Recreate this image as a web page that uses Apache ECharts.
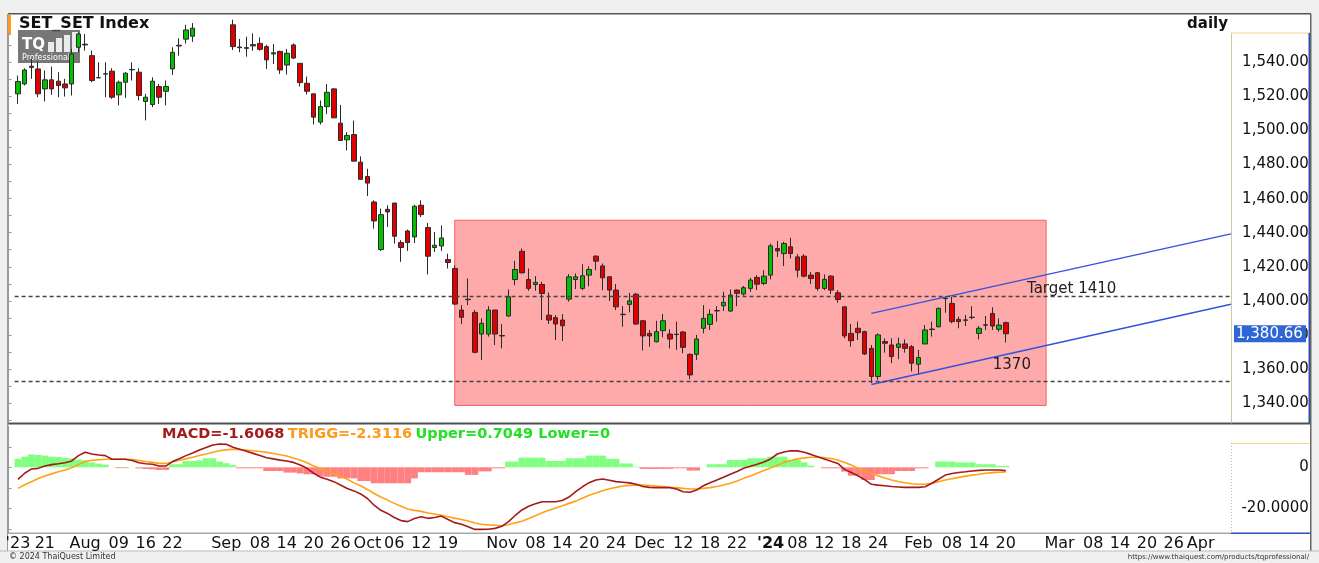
<!DOCTYPE html>
<html>
<head>
<meta charset="utf-8">
<title>SET_SET Index daily</title>
<script src="https://cdn.jsdelivr.net/npm/echarts@6/dist/echarts.min.js"></script>
<style>
html,body{margin:0;padding:0;background:#f0f0f0;}
#main{width:1319px;height:563px;}
</style>
</head>
<body>
<div id="main"></div>
<script>
// trading days shown on the chart
var dates = [
'2023-07-17','2023-07-18','2023-07-19','2023-07-20','2023-07-21','2023-07-24','2023-07-25','2023-07-26','2023-07-27','2023-07-31',
'2023-08-02','2023-08-03','2023-08-04','2023-08-07','2023-08-08','2023-08-09','2023-08-10','2023-08-11','2023-08-15','2023-08-16',
'2023-08-17','2023-08-18','2023-08-21','2023-08-22','2023-08-23','2023-08-24','2023-08-25','2023-08-28','2023-08-29','2023-08-30','2023-08-31',
'2023-09-01','2023-09-04','2023-09-05','2023-09-06','2023-09-07','2023-09-08','2023-09-11','2023-09-12','2023-09-13','2023-09-14',
'2023-09-15','2023-09-18','2023-09-19','2023-09-20','2023-09-21','2023-09-22','2023-09-25','2023-09-26','2023-09-27','2023-09-28','2023-09-29',
'2023-10-02','2023-10-03','2023-10-04','2023-10-05','2023-10-06','2023-10-09','2023-10-10','2023-10-11','2023-10-12','2023-10-16',
'2023-10-17','2023-10-18','2023-10-19','2023-10-20','2023-10-24','2023-10-25','2023-10-26','2023-10-27','2023-10-30','2023-10-31',
'2023-11-01','2023-11-02','2023-11-03','2023-11-06','2023-11-07','2023-11-08','2023-11-09','2023-11-10','2023-11-13','2023-11-14',
'2023-11-15','2023-11-16','2023-11-17','2023-11-20','2023-11-21','2023-11-22','2023-11-23','2023-11-24','2023-11-27','2023-11-28','2023-11-29','2023-11-30',
'2023-12-01','2023-12-04','2023-12-06','2023-12-07','2023-12-08','2023-12-12','2023-12-13','2023-12-14','2023-12-15','2023-12-18',
'2023-12-19','2023-12-20','2023-12-21','2023-12-22','2023-12-25','2023-12-26','2023-12-27','2023-12-28',
'2024-01-02','2024-01-03','2024-01-04','2024-01-05','2024-01-08','2024-01-09','2024-01-10','2024-01-11','2024-01-12','2024-01-15',
'2024-01-16','2024-01-17','2024-01-18','2024-01-19','2024-01-22','2024-01-23','2024-01-24','2024-01-25','2024-01-26','2024-01-29','2024-01-30','2024-01-31',
'2024-02-01','2024-02-02','2024-02-05','2024-02-06','2024-02-07','2024-02-08','2024-02-09','2024-02-12','2024-02-13','2024-02-14',
'2024-02-15','2024-02-16','2024-02-19','2024-02-20'
];
// empty future slots on the time axis
var futureDates = [
'2024-02-21','2024-02-22','2024-02-23','2024-02-26','2024-02-27','2024-02-28','2024-02-29','2024-03-01',
'2024-03-04','2024-03-05','2024-03-06','2024-03-07','2024-03-08','2024-03-11','2024-03-12','2024-03-13','2024-03-14','2024-03-15',
'2024-03-18','2024-03-19','2024-03-20','2024-03-21','2024-03-22','2024-03-25','2024-03-26','2024-03-27','2024-03-28','2024-03-29',
'2024-04-01','2024-04-02','2024-04-03','2024-04-04','2024-04-05'
];

var opens = [
1521.5,1527.3,1537.7,1536.1,1524.4,1529.7,1528.9,1527.3,1527.3,1548.8,
1550.6,1543.9,1531.0,1533.3,1534.8,1520.9,1528.3,1535.8,1534.2,1517.0,
1515.2,1525.8,1523.0,1536.1,1550.0,1553.6,1555.3,1561,1566,1567,
1564,1569,1562,1549.0,1548.2,1549.6,1551.1,1549.2,1544.9,1546.4,
1538.4,1550.2,1539.4,1527.7,1521.5,1504.9,1514.0,1524.4,1504.3,1494.5,
1497.6,1481.4,1473.0,1458.0,1430.1,1453.7,1457.4,1434.2,1441.0,1437.5,
1456.1,1443.0,1431.3,1432.2,1424.2,1419.0,1394.6,1400.9,1393.2,1380.5,
1380.5,1394.6,1379.6,1391.1,1412.5,1429.1,1412.5,1409.6,1409.6,1391.6,
1390.1,1388.7,1401.0,1412.5,1407.3,1415.1,1426.2,1420.5,1414.1,1406.3,
1392.1,1397.9,1403.9,1388.3,1380.9,1376.0,1382.5,1380.5,1380.4,1381.7,
1368.6,1368.6,1383.9,1386.2,1394.3,1397.1,1394.0,1406.3,1404.0,1407.3,
1413.7,1410.2,1415.1,1430.7,1427.8,1431.7,1425.8,1426.2,1415.1,1416.5,
1407.3,1414.5,1404.7,1396.5,1380.9,1383.9,1381.9,1372.1,1355.6,1376.1,
1374.1,1372.7,1374.7,1373.1,1362.8,1374.7,1383.4,1384.8,1401.5,1398.5,
1389.1,1388.8,1390.4,1380.9,1385.9,1392.6,1383.3,1387.2
];
var highs = [
1532.2,1536.5,1542.0,1540.4,1535.2,1537.5,1534.2,1530.3,1547.8,1557.6,
1556.6,1546.9,1540.0,1540.0,1536.5,1529.3,1534.2,1540.0,1536.5,1521.5,
1531.2,1527.3,1529.3,1548.8,1554.1,1562.0,1563.0,1569,1572,1570,
1572,1574,1565,1553.7,1555.0,1557.0,1554.6,1550.3,1550.7,1546.8,
1547.8,1551.1,1539.4,1531.6,1521.5,1517.6,1527.3,1524.8,1515.0,1499.0,
1505.8,1484.8,1477.5,1459.0,1454.1,1456.1,1457.4,1435.6,1441.8,1456.4,
1459.0,1445.7,1440.4,1444.3,1427.7,1420.9,1397.5,1413.1,1394.6,1389.7,
1396.9,1394.6,1386.4,1406.7,1423.5,1430.7,1419.0,1414.5,1411.2,1404.9,
1391.6,1392.2,1415.7,1416.1,1421.5,1420.3,1426.8,1421.9,1414.5,1409.8,
1396.9,1404.7,1404.7,1388.7,1382.9,1388.3,1392.3,1383.3,1387.8,1382.3,
1369.2,1380.0,1397.5,1395.0,1396.9,1405.3,1406.7,1406.7,1408.7,1413.5,
1415.1,1418.0,1433.6,1435.2,1434.6,1437.1,1427.4,1427.4,1417.0,1417.0,
1415.5,1415.1,1406.3,1396.5,1386.4,1387.8,1382.5,1374.1,1380.9,1378.0,
1378.0,1378.4,1377.4,1374.1,1371.2,1385.8,1387.8,1396.0,1402.4,1402.4,
1390.7,1391.7,1396.9,1385.2,1391.1,1396.2,1389.7,1387.8
];
var lows = [
1515.6,1526.4,1530.3,1519.5,1517.0,1520.9,1519.5,1519.9,1520.5,1545.9,
1546.9,1528.3,1530.9,1519.5,1518.6,1514.7,1519.1,1529.3,1517.6,1505.9,
1513.7,1515.6,1514.7,1532.6,1543.9,1551.0,1552.0,1560,1562,1560,
1561,1561,1547.2,1545.9,1543.3,1546.8,1546.8,1536.1,1539.0,1533.2,
1532.8,1541.9,1525.8,1521.1,1503.5,1503.5,1509.7,1507.4,1494.1,1488.3,
1482.0,1471.3,1461.5,1442.4,1429.3,1443.4,1433.6,1422.9,1429.3,1434.0,
1449.2,1415.5,1428.7,1429.3,1419.0,1397.5,1386.4,1397.5,1369.2,1365.3,
1379.0,1374.1,1372.1,1390.7,1409.2,1416.4,1405.9,1405.9,1388.7,1386.4,
1377.0,1376.4,1399.5,1406.9,1406.3,1408.6,1418.0,1406.3,1399.9,1394.6,
1384.8,1393.2,1385.8,1370.8,1373.1,1375.5,1378.6,1372.1,1371.2,1369.2,
1354.0,1365.3,1380.9,1382.9,1387.8,1394.0,1393.6,1396.9,1403.0,1405.3,
1406.3,1409.2,1412.6,1425.8,1420.4,1424.9,1413.7,1413.7,1409.8,1405.9,
1406.3,1404.0,1398.9,1378.0,1373.1,1377.0,1368.2,1351.7,1353.6,1369.6,
1363.4,1365.7,1369.6,1358.5,1356.5,1374.7,1379.0,1384.4,1393.0,1386.8,
1383.9,1385.2,1389.1,1377.4,1382.9,1382.9,1381.9,1375.5
];
var closes = [
1528.7,1535.5,1537.0,1521.5,1529.7,1524.4,1526.4,1525.0,1544.9,1556.6,
1550.2,1529.3,1530.9,1533.1,1519.5,1528.3,1533.6,1535.6,1520.5,1519.5,
1528.9,1519.5,1525.8,1545.9,1549.6,1559.0,1560.0,1566,1568,1563,
1569,1565,1549.2,1548.6,1548.6,1550.4,1547.6,1541.4,1545.6,1535.5,
1545.3,1542.5,1528.1,1523.0,1507.8,1514.0,1522.4,1507.4,1494.1,1497.1,
1482.0,1471.3,1469.1,1446.9,1450.6,1452.2,1437.9,1431.3,1434.2,1455.5,
1450.6,1426.2,1432.6,1436.9,1422.5,1398.1,1390.3,1400.7,1369.8,1386.8,
1394.6,1380.5,1379.4,1402.4,1418.4,1416.4,1407.3,1410.8,1404.3,1388.7,
1386.4,1385.4,1414.1,1414.1,1414.7,1418.4,1423.3,1413.5,1406.3,1396.5,
1391.9,1400.0,1386.4,1379.4,1379.4,1381.9,1388.3,1377.6,1380.2,1372.7,
1356.5,1377.6,1389.7,1392.1,1394.1,1399.1,1403.4,1404.4,1407.7,1412.2,
1409.8,1414.5,1432.3,1429.3,1433.6,1427.8,1418.0,1414.5,1413.1,1407.3,
1412.6,1406.3,1400.8,1379.4,1376.6,1381.3,1368.8,1355.6,1380.0,1375.1,
1367.3,1374.7,1372.1,1363.4,1366.7,1382.9,1383.2,1395.6,1401.3,1387.8,
1387.8,1388.6,1390.2,1383.9,1385.7,1385.2,1385.8,1380.66
];

var macd = [
-5.9,-2.9,-0.8,-0.5,0.6,1.3,1.7,2.2,3.1,5.7,
7.3,6.5,6.0,5.7,3.9,3.9,3.9,3.3,2.2,1.7,
1.5,0.6,0.6,2.8,4.2,5.7,7.0,8.4,9.7,10.9,
11.4,11.2,9.8,8.8,7.8,6.8,5.8,4.7,4.1,3.5,
3.1,2.4,1.1,-0.5,-2.9,-4.8,-5.8,-7.0,-8.6,-10.3,
-11.5,-13.0,-15.2,-18.5,-21.0,-22.5,-24.5,-26.0,-26.5,-25.0,
-24.1,-24.9,-24.5,-23.8,-25.5,-27.0,-27.8,-29.0,-30.3,-30.3,
-30.2,-29.8,-28.8,-26.5,-23.5,-20.8,-19.0,-17.8,-16.8,-16.8,
-16.8,-16.2,-14.5,-11.9,-9.5,-7.5,-6.2,-5.7,-6.3,-7.0,
-7.3,-7.6,-8.3,-9.4,-9.8,-9.9,-9.9,-9.9,-10.6,-11.9,
-12.2,-11.1,-9.0,-7.5,-6.2,-4.8,-3.4,-2.0,-0.5,0.5,
1.5,2.6,4.1,6.5,7.5,8.1,8.0,7.3,6.3,5.2,
4.1,3.0,1.9,-1.0,-2.5,-4.1,-6.0,-8.3,-8.7,-9.0,
-9.4,-9.6,-9.8,-9.8,-9.8,-9.5,-7.8,-5.8,-3.8,-3.0,
-2.5,-2.2,-1.8,-1.5,-1.3,-1.3,-1.3,-1.6068
];
var trigg = [
-10.3,-8.5,-7.0,-5.5,-4.2,-3.2,-2.2,-1.3,-0.2,1.3,
2.8,3.4,3.7,3.9,3.9,3.9,3.9,3.8,3.3,2.8,
2.4,1.9,1.9,2.6,3.4,4.1,4.9,5.8,6.5,7.3,
8.1,8.5,8.8,8.7,8.4,8.1,7.7,7.3,6.7,6.1,
5.5,4.5,3.6,2.2,0.6,-0.6,-1.8,-3.0,-4.2,-5.8,
-7.6,-9.0,-10.8,-12.8,-14.5,-16.0,-17.6,-19.0,-20.3,-21.0,
-21.5,-22.3,-22.8,-23.4,-24.1,-24.8,-25.5,-26.2,-27.2,-27.8,
-28.1,-28.3,-28.5,-28.0,-27.1,-26.3,-25.0,-23.6,-22.2,-21.0,
-19.9,-18.7,-17.6,-16.5,-15.1,-13.6,-12.5,-11.4,-10.5,-9.8,
-9.1,-8.8,-8.6,-8.7,-8.9,-9.1,-9.4,-9.7,-9.9,-10.3,
-10.6,-10.5,-10.3,-9.9,-9.4,-8.6,-7.8,-6.7,-5.4,-4.2,
-2.9,-1.6,-0.4,1.0,2.4,3.3,4.1,4.6,4.9,4.9,
4.7,4.3,3.6,2.4,1.1,-0.4,-1.8,-3.0,-4.1,-5.2,
-6.2,-6.9,-7.5,-8.0,-8.3,-8.3,-7.8,-7.0,-6.2,-5.6,
-4.9,-4.3,-3.8,-3.4,-2.9,-2.6,-2.4,-2.3116
];
var hist = [
4.1,5.2,6.3,6.0,5.7,5.2,5.0,4.6,4.4,3.8,
3.4,2.4,1.8,1.3,0,-0.4,-0.4,0,-0.5,-0.8,
-1.0,-1.3,-1.3,1.5,1.5,3.1,3.1,3.4,4.4,4.4,
2.8,2.0,1.1,-0.5,-0.5,-0.5,-0.5,-1.8,-1.8,-1.8,
-2.6,-2.6,-3.0,-3.4,-3.4,-4.6,-4.6,-4.6,-5.4,-5.4,
-5.4,-6.7,-6.7,-7.8,-7.8,-7.8,-7.8,-7.8,-7.8,-5.4,
-2.4,-2.4,-2.4,-2.4,-2.4,-2.4,-2.4,-3.7,-3.7,-2.0,
-2.0,-0.5,-0.5,2.8,2.8,4.7,4.7,4.7,4.7,3.1,
3.1,3.1,4.4,4.4,4.4,5.7,5.7,5.7,4.1,4.1,
1.9,1.9,0.3,-0.8,-0.8,-0.8,-0.8,-0.8,-0.5,-0.5,
-1.6,-1.6,0,1.5,1.5,1.5,3.6,3.6,3.6,4.4,
4.4,4.4,5.2,5.2,5.2,3.6,3.6,2.4,0.8,0,
-0.5,-0.5,-0.5,-2.1,-4.1,-4.1,-6.2,-6.2,-3.4,-3.4,
-3.4,-1.8,-1.8,-1.8,-0.5,-0.5,0,2.8,2.8,2.8,
2.4,2.4,2.4,1.5,1.5,1.5,0.7,0.7049
];

// axis ticks
var priceTicks = [1340,1360,1380,1400,1420,1440,1460,1480,1500,1520,1540];
var macdTicks = [0,-20];
var tickDates = ['2023-07-17','2023-07-21','2023-08-02','2023-08-09','2023-08-16','2023-08-22','2023-09-01','2023-09-08','2023-09-14','2023-09-20','2023-09-26',
 '2023-10-02','2023-10-06','2023-10-12','2023-10-19','2023-11-01','2023-11-08','2023-11-14','2023-11-20','2023-11-24','2023-12-01','2023-12-12','2023-12-18','2023-12-22',
 '2024-01-02','2024-01-08','2024-01-12','2024-01-18','2024-01-24','2024-02-01','2024-02-08','2024-02-14','2024-02-20',
 '2024-03-01','2024-03-08','2024-03-14','2024-03-20','2024-03-26','2024-04-01'];
var tickTexts = ["'23",'21','Aug','09','16','22','Sep','08','14','20','26',
 'Oct','06','12','19','Nov','08','14','20','24','Dec','12','18','22',
 "'24",'08','12','18','24','Feb','08','14','20',
 'Mar','08','14','20','26','Apr'];

// drawn annotations (in chart coordinates: candle index, price)
var levels = [1402.4, 1353.0];
var zoneBox = [65, 153, 1447.3, 1338.6];
var upperChannel = [[127, 1392.7], [180.5, 1439.3]];
var lowerChannel = [[127, 1350.9], [180.5, 1398.0]];
var notes = [['Target 1410', 156.8, 1406.9], ['1370', 147.9, 1362.4]];

var FONT = 'DejaVu Sans';
var chart = echarts.init(document.getElementById('main'));
var allDates = dates.concat(futureDates);
var tickMap = {};
tickDates.forEach(function(d, k){ tickMap[d] = tickTexts[k]; });
var candles = dates.map(function(d, i){ return [opens[i], closes[i], lows[i], highs[i]]; });

function isTick(idx, val){ return tickMap[val] !== undefined; }
function fmtPrice(v){ return v.toLocaleString('en-US', {minimumFractionDigits:2, maximumFractionDigits:2}); }

var leftTicks = [];
for (var t = 1330; t <= 1550; t += 10) leftTicks.push(t);

var GL = 14.6, GR = 88.1;
var pMin = 1328.3, pMax = 1557.2, mMin = -32.05, mMax = 20.15;

var option = {
  animation: false,
  backgroundColor: '#f0f0f0',
  textStyle: {fontFamily: FONT},
  grid: [
    {left: GL, right: GR, top: 33, height: 390},
    {left: GL, right: GR, top: 426, height: 107}
  ],
  xAxis: [
    {type: 'category', gridIndex: 0, data: allDates, axisLine: {show: false}, axisTick: {show: false}, axisLabel: {show: false}, splitLine: {show: false}},
    {type: 'value', gridIndex: 0, min: -0.5, max: allDates.length - 0.5, show: false},
    {type: 'category', gridIndex: 1, data: allDates,
      axisLine: {show: false},
      axisTick: {inside: true, length: 4, alignWithLabel: true, interval: isTick, lineStyle: {color: '#888'}},
      axisLabel: {interval: isTick, margin: 3, color: '#111', fontSize: 16, fontFamily: FONT,
        formatter: function(v){ var s = tickMap[v]; if (s === undefined) return ''; return s === "'24" ? '{b|' + s + '}' : s; },
        rich: {b: {fontWeight: 'bold', fontSize: 16, color: '#111', fontFamily: FONT}}},
      splitLine: {show: false}}
  ],
  yAxis: [
    {type: 'value', gridIndex: 0, position: 'right', min: pMin, max: pMax,
      axisLine: {show: true, onZero: false, lineStyle: {color: '#c9b98a', type: 'dotted'}}, axisTick: {show: false}, splitLine: {show: false},
      axisLabel: {customValues: priceTicks, formatter: fmtPrice, align: 'right', margin: 78, color: '#111', fontSize: 15, fontFamily: FONT}},
    {type: 'value', gridIndex: 0, position: 'left', offset: 6, min: pMin, max: pMax,
      axisLine: {show: true, onZero: false, lineStyle: {color: '#999'}},
      axisTick: {show: true, inside: true, length: 3, customValues: leftTicks, lineStyle: {color: '#999'}},
      axisLabel: {show: false}, splitLine: {show: false}},
    {type: 'value', gridIndex: 1, position: 'right', min: mMin, max: mMax,
      axisLine: {show: false, onZero: false}, axisTick: {show: false}, splitLine: {show: false},
      axisLabel: {customValues: macdTicks, formatter: function(v){ return v === 0 ? '0' : v.toFixed(4); }, align: 'right', margin: 78, color: '#111', fontSize: 15, fontFamily: FONT}},
    {type: 'value', gridIndex: 1, position: 'left', offset: 6, min: mMin, max: mMax,
      axisLine: {show: true, onZero: false, lineStyle: {color: '#999'}},
      axisTick: {show: true, inside: true, length: 3, customValues: [-30, -20, -10, 0, 10], lineStyle: {color: '#999'}},
      axisLabel: {show: false}, splitLine: {show: false}}
  ],
  series: [
    {type: 'line', name: 'zone', xAxisIndex: 1, yAxisIndex: 0, data: [], z: 1, silent: true,
      markArea: {silent: true, itemStyle: {color: '#ffaaaa', borderColor: '#ff5c5c', borderWidth: 1},
        data: [[{xAxis: zoneBox[0], yAxis: zoneBox[2]}, {xAxis: zoneBox[1], yAxis: zoneBox[3]}]]},
      markLine: {silent: true, symbol: 'none', label: {show: false},
        lineStyle: {color: '#444', type: [4, 3], width: 1.4},
        data: levels.map(function(v){ return {yAxis: v}; })}},
    {type: 'candlestick', xAxisIndex: 0, yAxisIndex: 0, data: candles, barWidth: 5, z: 3,
      itemStyle: {color: '#00c000', color0: '#e00000', borderColor: '#2a2a2a', borderColor0: '#2a2a2a', borderWidth: 1}},
    {type: 'line', xAxisIndex: 1, yAxisIndex: 0, data: upperChannel, symbol: 'none', z: 4, silent: true,
      lineStyle: {color: '#3352dd', width: 1.3}},
    {type: 'line', xAxisIndex: 1, yAxisIndex: 0, data: lowerChannel, symbol: 'none', z: 4, silent: true,
      lineStyle: {color: '#3352dd', width: 1.3}},
    {type: 'bar', xAxisIndex: 2, yAxisIndex: 2, data: hist, barCategoryGap: '0%', z: 1, silent: true,
      itemStyle: {color: function(p){ return p.value >= 0 ? '#80ff80' : '#ff8080'; }}},
    {type: 'line', xAxisIndex: 2, yAxisIndex: 2, data: trigg, symbol: 'none', z: 3, silent: true,
      lineStyle: {color: '#ffa214', width: 1.6}},
    {type: 'line', xAxisIndex: 2, yAxisIndex: 2, data: macd, symbol: 'none', z: 4, silent: true,
      lineStyle: {color: '#a31b1b', width: 1.6}}
  ]
};
chart.setOption(option);

// static frame, captions and annotations
var last = dates.length - 1;
var tagY = chart.convertToPixel({yAxisIndex: 0}, closes[last]);
var g = [
  {type: 'rect', z: -10, silent: true, shape: {x: 8, y: 14, width: 1302, height: 537}, style: {fill: '#fff'}},
  {type: 'rect', silent: true, shape: {x: 8, y: 13, width: 1303, height: 1.5}, style: {fill: '#555'}},
  {type: 'rect', silent: true, shape: {x: 7, y: 14, width: 1, height: 537}, style: {fill: '#999'}},
  {type: 'rect', silent: true, shape: {x: 1310, y: 14, width: 1.5, height: 537}, style: {fill: '#666'}},
  {type: 'rect', silent: true, shape: {x: 8, y: 15, width: 3, height: 20}, style: {fill: '#ff9a1a'}},
  {type: 'text', silent: true, x: 19, y: 24, style: {text: 'SET_SET Index', fill: '#111', font: 'bold 16px "DejaVu Sans"', textVerticalAlign: 'middle'}},
  {type: 'text', silent: true, x: 1228, y: 24, style: {text: 'daily', fill: '#111', font: 'bold 15px "DejaVu Sans"', textAlign: 'right', textVerticalAlign: 'middle'}},
  {type: 'rect', silent: true, shape: {x: 1231, y: 32.5, width: 79, height: 1}, style: {fill: '#f2d68a'}},
  {type: 'rect', silent: true, shape: {x: 1308.5, y: 33, width: 1.5, height: 390}, style: {fill: '#2d4fb5'}},
  {type: 'rect', silent: true, shape: {x: 8, y: 422.5, width: 1302, height: 2}, style: {fill: '#505050'}},
  {type: 'rect', silent: true, shape: {x: 1231, y: 443, width: 79, height: 1}, style: {fill: '#f2d68a'}},
  {type: 'line', silent: true, shape: {x1: 1231.5, y1: 443, x2: 1231.5, y2: 533}, style: {stroke: '#c9b98a', lineDash: [1, 2]}},
  {type: 'rect', silent: true, shape: {x: 8, y: 532.5, width: 1223, height: 1.5}, style: {fill: '#a8a8a8'}},
  {type: 'rect', silent: true, shape: {x: 1231, y: 532.5, width: 79, height: 1.5}, style: {fill: '#2d4fb5'}},
  {type: 'rect', silent: true, shape: {x: 0, y: 550.5, width: 1319, height: 1}, style: {fill: '#bbb'}},
  {type: 'text', silent: true, x: 9, y: 557, style: {text: '\u00a9 2024 ThaiQuest Limited', fill: '#333', font: '8px "DejaVu Sans"', textVerticalAlign: 'middle'}},
  {type: 'text', silent: true, x: 1309, y: 557, style: {text: 'https://www.thaiquest.com/products/tqprofessional/', fill: '#333', font: '7px "DejaVu Sans"', textAlign: 'right', textVerticalAlign: 'middle'}},
  {type: 'text', silent: true, x: 162, y: 434, style: {
    text: '{a|MACD=' + macd[last].toFixed(4) + '} {b|TRIGG=' + trigg[last].toFixed(4) + '} {c|Upper=' + hist[last].toFixed(4) + ' Lower=0}',
    textVerticalAlign: 'middle',
    rich: {
      a: {fill: '#a31b1b', fontSize: 14.5, fontWeight: 'bold', fontFamily: FONT},
      b: {fill: '#ff9a1a', fontSize: 14.5, fontWeight: 'bold', fontFamily: FONT},
      c: {fill: '#22e022', fontSize: 14.5, fontWeight: 'bold', fontFamily: FONT}
    }}},
  {type: 'group', z: 20, silent: true, children: [
    {type: 'rect', shape: {x: 18, y: 30, width: 62, height: 33}, style: {fill: 'rgba(85,85,85,0.8)'}},
    {type: 'text', x: 22, y: 45, style: {text: 'TQ', fill: '#fff', font: 'bold 15px "DejaVu Sans"', textVerticalAlign: 'middle'}},
    {type: 'rect', shape: {x: 48, y: 42, width: 6, height: 10}, style: {fill: 'rgba(255,255,255,0.85)'}},
    {type: 'rect', shape: {x: 56, y: 38, width: 6, height: 14}, style: {fill: 'rgba(255,255,255,0.85)'}},
    {type: 'rect', shape: {x: 64, y: 35, width: 6, height: 17}, style: {fill: 'rgba(255,255,255,0.85)'}},
    {type: 'rect', shape: {x: 72, y: 32, width: 6, height: 20}, style: {fill: 'rgba(255,255,255,0.85)'}},
    {type: 'text', x: 22, y: 58, style: {text: 'Professional', fill: '#fff', font: '8px "DejaVu Sans"', textVerticalAlign: 'middle'}}
  ]},
  {type: 'rect', z: 20, silent: true, shape: {x: 1234, y: tagY - 8.5, width: 72, height: 17}, style: {fill: '#2f66d6'}},
  {type: 'text', z: 21, silent: true, x: 1236, y: tagY, style: {text: fmtPrice(closes[last]), fill: '#fff', font: '15px "DejaVu Sans"', textVerticalAlign: 'middle'}}
];
notes.forEach(function(n){
  var p = chart.convertToPixel({xAxisIndex: 1, yAxisIndex: 0}, [n[1], n[2]]);
  g.push({type: 'text', z: 10, silent: true, x: p[0], y: p[1], style: {text: n[0], fill: '#222', font: '15px "DejaVu Sans"', textAlign: 'center', textVerticalAlign: 'middle'}});
});
chart.setOption({graphic: g});
</script>
</body>
</html>
